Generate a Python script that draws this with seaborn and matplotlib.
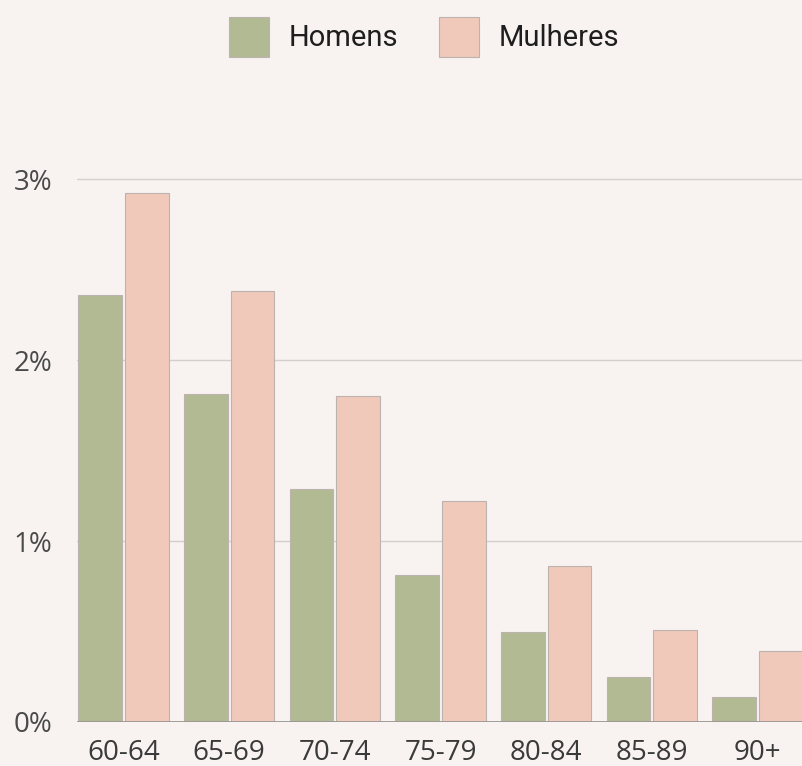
import pandas as pd
import matplotlib.pyplot as plt
import seaborn as sns

# age groups and share of population (%)
faixas = ["60-64", "65-69", "70-74", "75-79", "80-84", "85-89", "90+"]
homens = [2.36, 1.81, 1.29, 0.81, 0.50, 0.25, 0.14]
mulheres = [2.92, 2.38, 1.80, 1.22, 0.86, 0.51, 0.39]
yticks = [0, 1, 2, 3]

bg = "#f8f3f1"
cores = {"Homens": "#b2ba94", "Mulheres": "#f0c9ba"}

df = pd.DataFrame({"Faixa": faixas * 2,
                   "Sexo": ["Homens"] * len(faixas) + ["Mulheres"] * len(faixas),
                   "Valor": homens + mulheres})

sns.set_theme(style="white")
plt.rcParams["font.family"] = ["Open Sans", "DejaVu Sans"]

fig = plt.figure(figsize=(8.03, 7.66), dpi=100, facecolor=bg)
ax = fig.add_axes([77 / 803, 1 - 722 / 766, 1 - 77 / 803, 3.2 * 181 / 766])
ax.set_facecolor(bg)

sns.barplot(data=df, x="Faixa", y="Valor", hue="Sexo", palette=cores,
            saturation=1, width=0.88, gap=0.06, edgecolor="#bdb3ae",
            linewidth=0.8, ax=ax, zorder=3)

ax.set_xlim(-0.44, 6.43)
ax.set_ylim(0, 3.2)
ax.set_yticks(yticks)
ax.set_yticklabels([f"{t}%" for t in yticks])
ax.grid(axis="y", color="#d3cfcd", linewidth=1, zorder=0)
ax.axhline(0, color="#9a9694", linewidth=2, zorder=4)
for s in ax.spines.values():
    s.set_visible(False)
ax.tick_params(axis="y", length=0, pad=18, labelsize=20, labelcolor="#4a4a4a")
ax.tick_params(axis="x", length=0, pad=12, labelsize=20, labelcolor="#3a3a3a")
ax.set_xlabel("")
ax.set_ylabel("")

# square legend keys, about 40 px
sns.move_legend(ax, "center", bbox_to_anchor=(0.528, 0.952),
                bbox_transform=fig.transFigure, ncol=2, frameon=False,
                title=None, handlelength=1.37, handleheight=1.73,
                handletextpad=0.68, columnspacing=1.4,
                prop={"family": ["Roboto", "DejaVu Sans"], "size": 21})
for t in ax.get_legend().get_texts():
    t.set_color("#1e1e1e")

fig.savefig("out.png", dpi=100, facecolor=bg)
